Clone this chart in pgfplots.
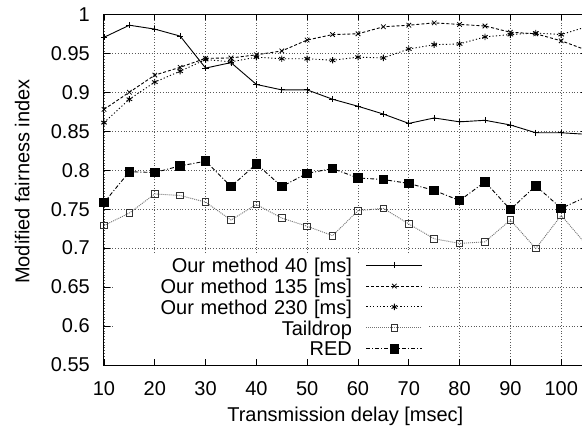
\documentclass[border=0pt]{standalone}
\usepackage{fontspec}
\setmainfont{Liberation Sans}
\usepackage{pgfplots}
\pgfplotsset{compat=1.18}
\usepackage{pgfplotstable}

\pgfplotstableread{
x   m40    m135   m230   tail   red
10  0.9705 0.878  0.861  0.729  0.7585
15  0.986  0.900  0.891  0.745  0.798
20  0.981  0.922  0.913  0.7695 0.797
25  0.972  0.932  0.927  0.7675 0.8055
30  0.931  0.9435 0.942  0.759  0.8115
35  0.938  0.944  0.939  0.736  0.779
40  0.910  0.948  0.945  0.756  0.808
45  0.903  0.953  0.943  0.7385 0.779
50  0.903  0.967  0.943  0.728  0.796
55  0.891  0.974  0.941  0.716  0.802
60  0.882  0.975  0.945  0.748  0.790
65  0.872  0.984  0.944  0.751  0.788
70  0.860  0.986  0.9555 0.731  0.783
75  0.867  0.989  0.961  0.712  0.774
80  0.862  0.987  0.962  0.706  0.761
85  0.864  0.985  0.971  0.708  0.785
90  0.858  0.977  0.974  0.736  0.7495
95  0.848  0.975  0.976  0.6995 0.780
100 0.848  0.966  0.974  0.742  0.751
105 0.846  0.954  0.984  0.704  0.766
}\data

\newcommand{\bigfont}{\fontsize{20}{24}\selectfont}

\begin{document}
\begin{tikzpicture}
\useasboundingbox (0,0) rectangle (582pt,432pt);
\begin{axis}[
  at={(104pt,67pt)}, anchor=south west,
  scale only axis, width=482.6pt, height=350.7pt,
  xmin=10, xmax=105, ymin=0.55, ymax=1,
  xtick={10,20,30,40,50,60,70,80,90,100},
  ytick={0.55,0.6,0.65,0.7,0.75,0.8,0.85,0.9,0.95,1},
  yticklabels={0.55,0.6,0.65,0.7,0.75,0.8,0.85,0.9,0.95,1},
  /pgf/number format/assume math mode=true,
  tick align=inside, major tick length=6pt,
  tick style={black, line width=0.8pt},
  axis line style={black, line width=1pt},
  grid=major,
  grid style={black!65, line width=0.6pt, dash pattern=on 0.8pt off 2pt},
  tick label style={font=\bigfont},
  xticklabel style={inner sep=0pt, anchor=north, yshift=-16pt},
  yticklabel style={inner sep=0pt, anchor=east, xshift=-14pt},
  xlabel={Transmission delay [msec]},
  ylabel={Modified fairness index},
  every axis x label/.style={at={(axis description cs:0.5,-0.1617)}, anchor=base, font=\bigfont, inner sep=0pt},
  every axis y label/.style={at={(axis description cs:-0.1548,0.523)}, anchor=base, rotate=90, font=\bigfont, inner sep=0pt},
  legend plot pos=right,
  legend cell align=right,
  legend style={at={(axis description cs:0.6734,0.3151)}, anchor=north east,
    fill=white, draw=none, inner xsep=6pt, inner ysep=0pt,
    row sep=0pt, column sep=14pt, font=\bigfont,
    nodes={inner sep=0pt, text width=232pt, align=right, text height=17.65pt, text depth=3.25pt}},
  legend image code/.code={\draw[mark repeat=2,mark phase=2,#1] plot coordinates {(0pt,0pt)(28pt,0pt)(56pt,0pt)};},
]
\addplot[black, line width=0.9pt, mark=+, mark size=3.2pt, mark options={solid, line width=0.8pt}]
  table[x=x, y=m40] {\data};
\addlegendentry{Our method 40 [ms]}
\addplot[black, line width=0.9pt, dash pattern=on 3pt off 2pt, mark=x, mark size=3.2pt, mark options={solid, line width=0.8pt}]
  table[x=x, y=m135] {\data};
\addlegendentry{Our method 135 [ms]}
\addplot[black, line width=0.9pt, dash pattern=on 1.2pt off 2.2pt, mark=asterisk, mark size=3.2pt, mark options={solid, line width=0.9pt}]
  table[x=x, y=m230] {\data};
\addlegendentry{Our method 230 [ms]}
\addplot[black!55, line width=0.9pt, dash pattern=on 1pt off 1pt, mark=square, mark size=3.3pt, mark options={solid, draw=black!80, fill=white, line width=0.8pt}]
  table[x=x, y=tail] {\data};
\addlegendentry{Taildrop}
\addplot[black, line width=0.9pt, dash pattern=on 4pt off 2pt on 1pt off 2pt, mark=square*, mark size=4.3pt, mark options={solid, fill=black}]
  table[x=x, y=red] {\data};
\addlegendentry{RED}
\end{axis}
\end{tikzpicture}
\end{document}
